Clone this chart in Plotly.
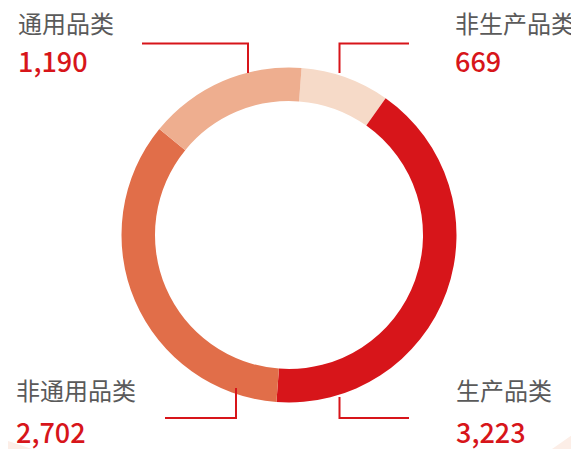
import plotly.graph_objects as go

# The page body has an 8px margin, so the figure is drawn 8px in from the window edge.
OFF = 8
W, H = 579 - OFF, 449 - OFF

categories = ["非生产品类", "生产品类", "非通用品类", "通用品类"]
values = [669, 3223, 2702, 1190]
colors = ["#F6DAC8", "#D7151A", "#E16E49", "#EEAE8F"]
value_labels = ["669", "3,223", "2,702", "1,190"]

RED = "#D7151A"
GRAY = "#5a5a5a"
FONT = "Noto Sans CJK SC"

def px(x):
    return (x - OFF) / W

def py(y):
    return (H - (y - OFF)) / H

fig = go.Figure()
cx, cy, r = 289, 235, 167.5
fig.add_trace(go.Pie(
    labels=categories,
    values=values,
    marker=dict(colors=colors, line=dict(width=0)),
    hole=0.8,
    sort=False,
    direction="clockwise",
    rotation=4.3,
    textinfo="none",
    hoverinfo="label+value",
    showlegend=False,
    domain=dict(x=[px(cx - r), px(cx + r)], y=[py(cy + r), py(cy - r)]),
))

# label placement (pixel positions in the reference): x, name centre y, value centre y
label_pos = {
    "通用品类": (19, 25, 64),
    "非生产品类": (456, 25, 64),
    "非通用品类": (17, 392.5, 434),
    "生产品类": (457, 392, 434),
}
ADJ = 3  # annotation box padding

annotations = []
for cat, val in zip(categories, value_labels):
    x, yl, yv = label_pos[cat]
    annotations.append(dict(
        x=px(x - ADJ), y=py(yl - ADJ), xref="paper", yref="paper", xanchor="left", yanchor="middle",
        text=cat, showarrow=False, font=dict(family=FONT, size=24, color=GRAY)))
    annotations.append(dict(
        x=px(x - ADJ), y=py(yv - ADJ), xref="paper", yref="paper", xanchor="left", yanchor="middle",
        text=val, showarrow=False, font=dict(family=FONT, size=27, color=RED, weight=500)))

line = dict(color=RED, width=2)
shapes = [
    # decorative corner shapes
    dict(type="path", xref="paper", yref="paper",
         path=f"M {px(8)} {py(441)} L {px(32)} {py(449)} L {px(8)} {py(449)} Z",
         fillcolor="#FCEEE7", line=dict(width=0), layer="below"),
    dict(type="path", xref="paper", yref="paper",
         path=f"M {px(579)} {py(430)} L {px(579)} {py(449)} L {px(552)} {py(449)} Z",
         fillcolor="#FCEEE7", line=dict(width=0), layer="below"),
    # leader lines
    dict(type="path", xref="paper", yref="paper",
         path=f"M {px(142)} {py(43.5)} L {px(248)} {py(43.5)} L {px(248)} {py(73)}", line=line),
    dict(type="path", xref="paper", yref="paper",
         path=f"M {px(339.5)} {py(73)} L {px(339.5)} {py(43.5)} L {px(409)} {py(43.5)}", line=line),
    dict(type="path", xref="paper", yref="paper",
         path=f"M {px(165)} {py(418)} L {px(236)} {py(418)} L {px(236)} {py(388)}", line=line),
    dict(type="path", xref="paper", yref="paper",
         path=f"M {px(339.5)} {py(397)} L {px(339.5)} {py(418)} L {px(409)} {py(418)}", line=line),
]

fig.update_layout(
    width=W, height=H,
    margin=dict(l=0, r=0, t=0, b=0),
    paper_bgcolor="white", plot_bgcolor="white",
    annotations=annotations, shapes=shapes,
    font=dict(family=FONT),
)

fig.write_html("out.html")
